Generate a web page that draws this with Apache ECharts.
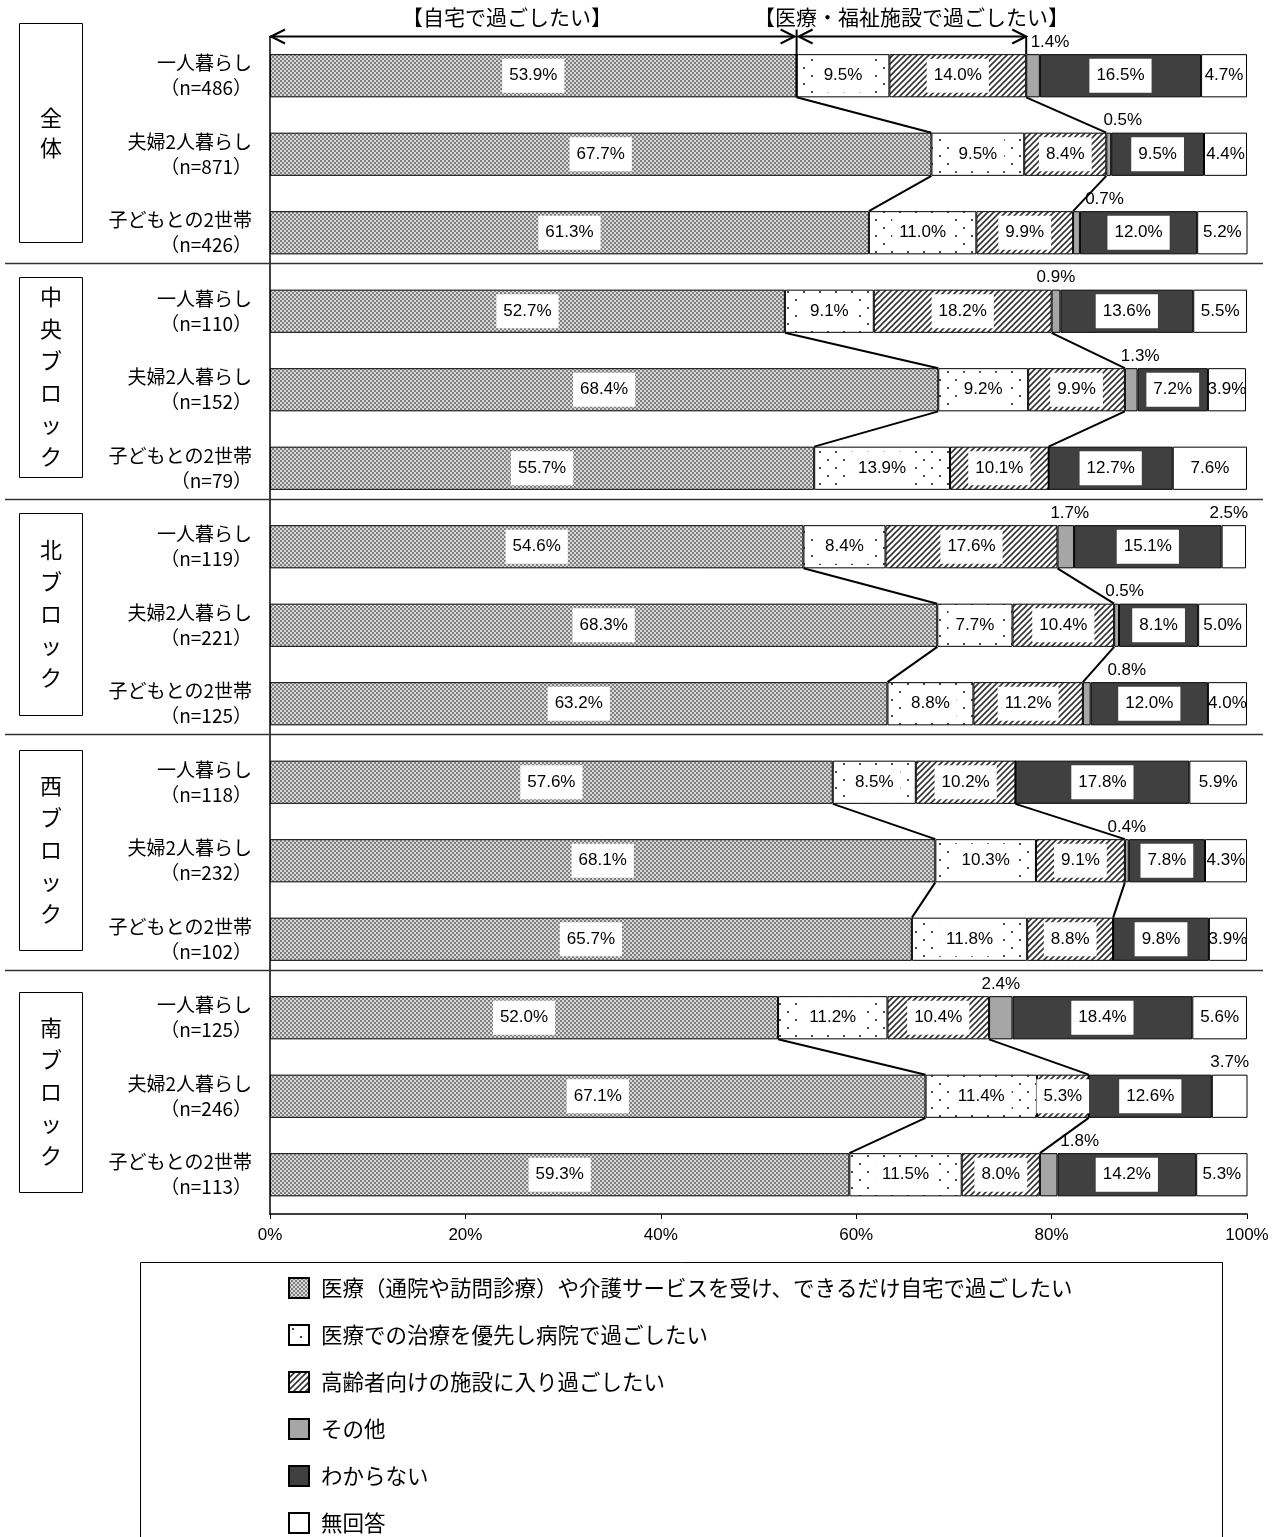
<!DOCTYPE html>
<html>
<head>
<meta charset="utf-8">
<script src="https://cdn.jsdelivr.net/npm/echarts@6/dist/echarts.min.js"></script>
<style>
  html, body { margin: 0; padding: 0; background: #fff; }
  #chart { width: 1279px; height: 1537px; }
</style>
</head>
<body>
<div id="chart"></div>
<script>
// 行ラベル
const rowNames = ['一人暮らし', '夫婦2人暮らし', '子どもとの2世帯'];
const groupNames = ['全体', '中央ブロック', '北ブロック', '西ブロック', '南ブロック'];
const sampleSizes = [486, 871, 426, 110, 152, 79, 119, 221, 125, 118, 232, 102, 125, 246, 113];

const seriesNames = [
  '医療（通院や訪問診療）や介護サービスを受け、できるだけ自宅で過ごしたい',
  '医療での治療を優先し病院で過ごしたい',
  '高齢者向けの施設に入り過ごしたい',
  'その他',
  'わからない',
  '無回答'
];

// 値（%）
const atHome   = [53.9, 67.7, 61.3, 52.7, 68.4, 55.7, 54.6, 68.3, 63.2, 57.6, 68.1, 65.7, 52.0, 67.1, 59.3];
const hospital = [9.5, 9.5, 11.0, 9.1, 9.2, 13.9, 8.4, 7.7, 8.8, 8.5, 10.3, 11.8, 11.2, 11.4, 11.5];
const facility = [14.0, 8.4, 9.9, 18.2, 9.9, 10.1, 17.6, 10.4, 11.2, 10.2, 9.1, 8.8, 10.4, 5.3, 8.0];
const other    = [1.4, 0.5, 0.7, 0.9, 1.3, 0, 1.7, 0.5, 0.8, 0, 0.4, 0, 2.4, 0, 1.8];
const unknown  = [16.5, 9.5, 12.0, 13.6, 7.2, 12.7, 15.1, 8.1, 12.0, 17.8, 7.8, 9.8, 18.4, 12.6, 14.2];
const noAnswer = [4.7, 4.4, 5.2, 5.5, 3.9, 7.6, 2.5, 5.0, 4.0, 5.9, 4.3, 3.9, 5.6, 3.7, 5.3];

const xTicks = [0, 20, 40, 60, 80, 100];

const categories = sampleSizes.map((n, i) => rowNames[i % 3] + '\n（n=' + n + '）');
const values = [atHome, hospital, facility, other, unknown, noAnswer];

// 帯の上に出す小さいラベルの横ずれ（px）。キーは "系列:行"
const topLabelShift = { '3:0': 17, '3:1': 14, '3:2': 28, '3:4': 9, '3:6': 4, '3:7': 8, '3:8': 40, '3:14': 31, '5:6': -5 };

const cjk = "'Noto Sans CJK JP', 'Noto Sans', sans-serif";

// Narrow がなければ普通の Liberation Sans を小さめで使う
function hasFont(name) {
  const ctx = document.createElement('canvas').getContext('2d');
  ctx.font = '20px monospace';
  const a = ctx.measureText('53.9% abcxyz').width;
  ctx.font = '20px "' + name + '", monospace';
  const b = ctx.measureText('53.9% abcxyz').width;
  return a !== b;
}
const narrow = hasFont('Liberation Sans Narrow');
const numFont = narrow ? "'Liberation Sans Narrow', 'Liberation Sans', sans-serif" : "'Liberation Sans', sans-serif";
const numSize = narrow ? 20 : 17;

function makeTile(w, h, draw) {
  const c = document.createElement('canvas');
  c.width = w;
  c.height = h;
  draw(c.getContext('2d'));
  return { image: c, repeat: 'repeat' };
}

const checkFill = makeTile(4, 4, ctx => {
  ctx.fillStyle = '#d8d8d8';
  ctx.fillRect(0, 0, 4, 4);
  ctx.fillStyle = '#7f7f7f';
  ctx.fillRect(0, 0, 2, 2);
  ctx.fillRect(2, 2, 2, 2);
});
const dotFill = makeTile(16, 16, ctx => {
  ctx.fillStyle = '#fff';
  ctx.fillRect(0, 0, 16, 16);
  ctx.fillStyle = '#444';
  ctx.fillRect(3, 3, 2, 2);
  ctx.fillRect(11, 11, 2, 2);
});
const hatchFill = makeTile(6, 6, ctx => {
  ctx.fillStyle = '#fff';
  ctx.fillRect(0, 0, 6, 6);
  ctx.strokeStyle = '#333';
  ctx.lineWidth = 1.6;
  ctx.beginPath();
  ctx.moveTo(-1, 7); ctx.lineTo(7, -1);
  ctx.moveTo(-4, 4); ctx.lineTo(4, -4);
  ctx.moveTo(2, 10); ctx.lineTo(10, 2);
  ctx.stroke();
});
const fills = [checkFill, dotFill, hatchFill, '#a6a6a6', '#404040', '#ffffff'];

const barFrac = 0.55;

const series = values.map((vals, s) => ({
  name: seriesNames[s],
  type: 'bar',
  stack: 'all',
  barWidth: (barFrac * 100) + '%',
  itemStyle: { color: fills[s], borderColor: '#000', borderWidth: 1 },
  label: {
    show: true,
    position: 'inside',
    formatter: p => Number(p.value).toFixed(1) + '%',
    color: '#000',
    fontSize: numSize,
    fontFamily: numFont,
    lineHeight: 20,
    backgroundColor: s === 5 ? 'transparent' : '#fff',
    padding: s === 5 ? 0 : [7, 7]
  },
  data: vals.map((v, i) => {
    if (v === 0) return { value: 0, label: { show: false } };
    if (v < 3.8) {
      const dx = topLabelShift[s + ':' + i] || 0;
      return {
        value: v,
        label: { position: 'top', distance: 2, offset: [dx, 0], backgroundColor: 'transparent', padding: 0 }
      };
    }
    return v;
  })
}));

// 各ブロック内の隣接する帯を結ぶ線（自宅／施設の境界）
const cum = (i, k) => values.slice(0, k).reduce((s, arr) => s + arr[i], 0);
const connectors = [];
for (let g = 0; g < groupNames.length; g++) {
  for (let r = 0; r < 2; r++) {
    const i = g * 3 + r;
    connectors.push([cum(i, 1), i, cum(i + 1, 1), i + 1]);
    connectors.push([cum(i, 3), i, cum(i + 1, 3), i + 1]);
  }
}

series.push({
  type: 'custom',
  name: 'connector',
  silent: true,
  z: 5,
  encode: { x: [0, 2], y: [1, 3] },
  data: connectors,
  renderItem: (params, api) => {
    const half = api.size([0, 1])[1] * barFrac / 2;
    const p1 = api.coord([api.value(0), api.value(1)]);
    const p2 = api.coord([api.value(2), api.value(3)]);
    return {
      type: 'line',
      shape: { x1: p1[0], y1: p1[1] + half, x2: p2[0], y2: p2[1] - half },
      style: { stroke: '#000', lineWidth: 2 }
    };
  }
});

const chart = echarts.init(document.getElementById('chart'));

const option = {
  animation: false,
  backgroundColor: '#fff',
  grid: { left: 270, right: 32, top: 36.5, bottom: 323, outerBoundsMode: 'none' },
  xAxis: {
    type: 'value',
    min: xTicks[0],
    max: xTicks[xTicks.length - 1],
    interval: xTicks[1] - xTicks[0],
    axisLine: { show: true, lineStyle: { color: '#000', width: 1.5 } },
    axisTick: { show: true, length: 5, lineStyle: { color: '#000' } },
    splitLine: { show: false },
    axisLabel: { formatter: '{value}%', color: '#000', fontSize: 17, fontFamily: numFont, margin: 13 }
  },
  yAxis: {
    type: 'category',
    inverse: true,
    data: categories,
    axisLine: { show: true, lineStyle: { color: '#000', width: 1.5 } },
    axisTick: { show: false },
    axisLabel: { color: '#000', fontSize: 19, lineHeight: 25, fontFamily: cjk, margin: 18 }
  },
  legend: {
    data: seriesNames,
    orient: 'vertical',
    left: 288,
    top: 1277,
    height: 400,
    padding: 0,
    icon: 'rect',
    itemWidth: 20,
    itemHeight: 20,
    itemGap: 25,
    selectedMode: false,
    textStyle: { color: '#000', fontSize: 21.5, lineHeight: 21, fontFamily: cjk, padding: [0, 0, 0, 7] }
  },
  series: series
};

chart.setOption(option);

// 注記・区切り線・ブロック名
const px = (x, y) => chart.convertToPixel({ gridIndex: 0 }, [x, y]);
const band = px(0, 1)[1] - px(0, 0)[1];
const halfBar = band * barFrac / 2;
const arrowY = px(0, 0)[1] - band / 2;
const xa = px(0, 0)[0];
const xb = px(cum(0, 1), 0)[0];
const xc = px(cum(0, 3), 0)[0];
const bar0Top = px(0, 0)[1] - halfBar;
const bar0Bottom = px(0, 0)[1] + halfBar;

const lineStyle = { stroke: '#000', lineWidth: 2 };
const seg = (x1, y1, x2, y2, style) => ({ type: 'line', z: 10, shape: { x1, y1, x2, y2 }, style: style || lineStyle });
const head = (x, y, dir) => ({
  type: 'polyline', z: 10,
  shape: { points: [[x - dir * 14, y - 7], [x, y], [x - dir * 14, y + 7]] },
  style: { stroke: '#000', lineWidth: 2, fill: null }
});

const graphics = [
  seg(xa, arrowY, xb - 2, arrowY),
  head(xa + 1, arrowY, -1),
  head(xb - 2, arrowY, 1),
  seg(xb + 2, arrowY, xc, arrowY),
  head(xb + 2, arrowY, -1),
  head(xc, arrowY, 1),
  seg(xb, arrowY - 7, xb, bar0Bottom),
  seg(xc, arrowY, xc, bar0Top),
  {
    type: 'text', z: 10, x: xa + (xb - xa) * 0.45, y: arrowY - 19,
    style: { text: '【自宅で過ごしたい】', fontSize: 21, fontFamily: cjk, fill: '#000', align: 'center', verticalAlign: 'middle' }
  },
  {
    type: 'text', z: 10, x: (xb + xc) / 2, y: arrowY - 19,
    style: { text: '【医療・福祉施設で過ごしたい】', fontSize: 21, fontFamily: cjk, fill: '#000', align: 'center', verticalAlign: 'middle' }
  },
  {
    type: 'rect', z: 1, shape: { x: 140.5, y: 1262.5, width: 1082, height: 300 },
    style: { fill: null, stroke: '#000', lineWidth: 1 }
  }
];

for (let g = 0; g < groupNames.length - 1; g++) {
  const y = Math.round(px(0, g * 3 + 2)[1] + band * 0.39) + 0.5;
  graphics.push(seg(5, y, 1263, y, { stroke: '#333', lineWidth: 1.5 }));
}

const groupBoxes = [[23, 242], [277, 477], [513, 715], [750, 950], [992, 1192]];
groupNames.forEach((name, g) => {
  const [top, bottom] = groupBoxes[g];
  graphics.push({
    type: 'rect', z: 10, shape: { x: 19.5, y: top + 0.5, width: 63, height: bottom - top },
    style: { fill: '#fff', stroke: '#000', lineWidth: 1 }
  });
  graphics.push({
    type: 'text', z: 11, x: 51, y: (top + bottom) / 2,
    style: {
      text: name.split('').join('\n'), fontSize: 22, lineHeight: name.length > 2 ? 32 : 30,
      fontFamily: cjk, fill: '#000', align: 'center', verticalAlign: 'middle'
    }
  });
});

chart.setOption({ graphic: { elements: graphics } });
</script>
</body>
</html>
